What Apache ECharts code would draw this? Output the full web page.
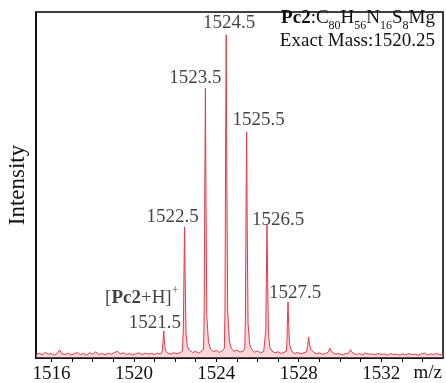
<!DOCTYPE html>
<html>
<head>
<meta charset="utf-8">
<script src="https://cdn.jsdelivr.net/npm/echarts@6/dist/echarts.min.js"></script>
<style>
  html, body { margin: 0; padding: 0; background: #fff; }
  #chart { width: 446px; height: 383px; }
</style>
</head>
<body>
<div id="chart"></div>
<script>
// MALDI-TOF spectrum, [m/z, relative intensity]
const spectrum = [
  [1515.25, 1.0], [1515.4, 1.4], [1515.55, 0.9], [1515.7, 1.6], [1515.85, 1.1], [1516.0, 1.3],
  [1516.15, 0.8], [1516.3, 1.5], [1516.4, 2.3], [1516.5, 1.2], [1516.65, 1.0], [1516.8, 1.4],
  [1516.95, 0.9], [1517.1, 1.2], [1517.25, 1.6], [1517.4, 1.0], [1517.55, 1.3], [1517.7, 0.8],
  [1517.85, 1.5], [1518.0, 1.1], [1518.15, 1.8], [1518.3, 1.0], [1518.45, 1.3], [1518.6, 0.9],
  [1518.75, 1.4], [1518.9, 1.1], [1519.05, 1.6], [1519.2, 1.9], [1519.35, 1.2], [1519.5, 1.5],
  [1519.65, 1.0], [1519.8, 1.3], [1519.95, 0.9], [1520.1, 1.2], [1520.25, 1.5], [1520.4, 1.0],
  [1520.55, 1.4], [1520.7, 1.1], [1520.85, 1.3], [1521.0, 1.0], [1521.15, 1.4], [1521.3, 1.2],
  [1521.37, 1.8], [1521.41, 4.5], [1521.45, 7.8], [1521.49, 4.0], [1521.54, 2.0], [1521.65, 1.4],
  [1521.8, 1.1], [1521.95, 1.5], [1522.1, 1.2], [1522.25, 1.6], [1522.35, 1.9],
  [1522.4, 8], [1522.43, 24], [1522.46, 37.9], [1522.49, 22], [1522.53, 7], [1522.6, 3.2], [1522.7, 2.2],
  [1522.85, 1.6], [1523.0, 1.9], [1523.15, 1.4], [1523.3, 2.0], [1523.38, 2.6],
  [1523.41, 12], [1523.44, 48], [1523.47, 78], [1523.5, 45], [1523.54, 12], [1523.62, 4.5], [1523.72, 2.6],
  [1523.85, 1.8], [1524.0, 2.2], [1524.15, 1.6], [1524.3, 2.1], [1524.39, 2.8],
  [1524.42, 14], [1524.45, 58], [1524.48, 93.4], [1524.51, 55], [1524.55, 14], [1524.63, 5], [1524.73, 2.8],
  [1524.85, 1.9], [1525.0, 2.3], [1525.15, 1.7], [1525.3, 2.0], [1525.38, 2.7],
  [1525.41, 11], [1525.44, 40], [1525.47, 65.3], [1525.5, 38], [1525.54, 10], [1525.62, 4], [1525.72, 2.4],
  [1525.85, 1.7], [1526.0, 2.0], [1526.15, 1.5], [1526.3, 1.9], [1526.37, 2.4],
  [1526.4, 8], [1526.43, 24], [1526.46, 38.4], [1526.49, 23], [1526.53, 7], [1526.6, 3], [1526.7, 2.0],
  [1526.85, 1.5], [1527.0, 1.8], [1527.15, 1.3], [1527.3, 1.7], [1527.4, 2.0],
  [1527.43, 5], [1527.45, 11], [1527.48, 16.2], [1527.51, 10], [1527.55, 4], [1527.65, 2.0],
  [1527.8, 1.3], [1527.95, 1.6], [1528.1, 1.2], [1528.25, 1.5], [1528.38, 1.8],
  [1528.43, 3.5], [1528.48, 6.1], [1528.52, 4.0], [1528.58, 2.6], [1528.7, 1.8],
  [1528.85, 1.2], [1529.0, 1.5], [1529.15, 1.1], [1529.3, 1.3], [1529.42, 1.6],
  [1529.47, 2.2], [1529.5, 2.9], [1529.55, 2.3], [1529.65, 1.5],
  [1529.8, 1.1], [1529.95, 1.3], [1530.1, 0.9], [1530.25, 1.2], [1530.4, 1.4],
  [1530.48, 1.9], [1530.52, 2.4], [1530.57, 1.8], [1530.68, 1.2],
  [1530.8, 1.0], [1530.95, 1.3], [1531.1, 0.9], [1531.25, 1.4], [1531.4, 1.1], [1531.55, 1.2],
  [1531.7, 0.9], [1531.85, 1.3], [1532.0, 1.0], [1532.15, 1.2], [1532.3, 0.8], [1532.45, 1.3],
  [1532.6, 1.0], [1532.75, 1.1], [1532.9, 0.8], [1533.05, 1.2], [1533.2, 0.9], [1533.35, 1.3],
  [1533.5, 1.0], [1533.65, 1.1], [1533.8, 0.8], [1533.95, 1.2], [1534.1, 1.4], [1534.25, 0.9],
  [1534.4, 1.2], [1534.55, 1.0], [1534.7, 1.3], [1534.85, 0.9], [1535.0, 1.1]
];

const peakLabelText = ["{b|[}{bb|Pc2}{b|+H]}{sup|+}", "1521.5", "1522.5", "1523.5", "1524.5", "1525.5", "1526.5", "1527.5"];
const peakLabelMz = [1521.45, 1521.45, 1522.46, 1523.47, 1524.48, 1525.47, 1526.46, 1527.48];
const peakLabelIntensity = [7.8, 7.8, 37.9, 78, 93.4, 65.3, 38.4, 16.2];

const xLabelValues = [1516, 1520, 1524, 1528, 1532];
const xTickValues = [1516, 1517, 1518, 1519, 1520, 1521, 1522, 1523, 1524, 1525, 1526, 1527, 1528, 1529, 1530, 1531, 1532, 1533, 1534];

const formulaText = "{bb|Pc2}{n|:C}{s|80}{n|H}{s|56}{n|N}{s|16}{n|S}{s|8}{n|Mg}";
const massText = "Exact Mass:1520.25";

// label offsets in px from each peak apex
const labelOffsets = [[-22, -33], [-9, -8], [-12, -10], [-10, -10], [3, -12], [12, -12], [11, -5], [7, -9]];

const serif = "'Liberation Serif', 'DejaVu Serif', serif";
const ink = "#111";

const chart = echarts.init(document.getElementById("chart"));
chart.setOption({
  animation: false,
  grid: {
    left: 36, right: 3, top: 12, bottom: 25,
    outerBoundsMode: "none",
    show: true, borderColor: "#000", borderWidth: 1.5
  },
  xAxis: {
    type: "value",
    min: 1515.25,
    max: 1535,
    axisLine: { show: true, lineStyle: { color: "#000", width: 1.5 } },
    axisTick: { show: true, customValues: xTickValues, length: 4, lineStyle: { color: "#000", width: 1 } },
    axisLabel: {
      customValues: xLabelValues,
      formatter: (v) => String(v),
      margin: 7,
      fontSize: 19,
      fontFamily: serif,
      color: ink
    },
    splitLine: { show: false }
  },
  yAxis: {
    type: "value",
    min: 0,
    max: 100,
    name: "Intensity",
    nameLocation: "middle",
    nameGap: 7,
    nameTextStyle: { fontSize: 23, fontFamily: serif, color: ink },
    axisLine: { show: true, lineStyle: { color: "#000", width: 1.5 } },
    axisTick: { show: false },
    axisLabel: { show: false },
    splitLine: { show: false }
  },
  series: [
    {
      type: "line",
      data: spectrum,
      showSymbol: false,
      lineStyle: { color: "#e23a48", width: 1 },
      areaStyle: { color: "rgba(242,150,160,0.55)" },
      z: 2
    },
    {
      type: "scatter",
      symbolSize: 0,
      data: peakLabelMz.map((m, i) => ({
        value: [m, peakLabelIntensity[i]],
        label: { offset: labelOffsets[i], formatter: peakLabelText[i] }
      })),
      label: {
        show: true,
        position: "inside",
        fontSize: 19,
        fontFamily: serif,
        color: ink,
        rich: {
          b: { fontSize: 19, fontFamily: serif, color: ink, lineHeight: 26 },
          bb: { fontSize: 19, fontFamily: serif, color: ink, fontWeight: "bold", lineHeight: 26 },
          sup: { fontSize: 12, fontFamily: serif, color: ink, verticalAlign: "top" }
        }
      },
      z: 3
    }
  ],
  graphic: [
    {
      type: "text",
      right: 11,
      top: 9,
      style: {
        text: formulaText,
        font: "19px " + serif,
        fill: ink,
        rich: {
          n: { fontSize: 19, fontFamily: serif, color: ink, lineHeight: 26 },
          bb: { fontSize: 19, fontFamily: serif, color: ink, fontWeight: "bold", lineHeight: 26 },
          s: { fontSize: 12, fontFamily: serif, color: ink, verticalAlign: "bottom" }
        }
      }
    },
    {
      type: "text",
      right: 11,
      top: 32,
      style: { text: massText, font: "19px " + serif, fill: ink }
    },
    {
      type: "text",
      right: 4,
      top: 364,
      style: { text: "m/z", font: "19px " + serif, fill: ink }
    }
  ]
});
</script>
</body>
</html>
